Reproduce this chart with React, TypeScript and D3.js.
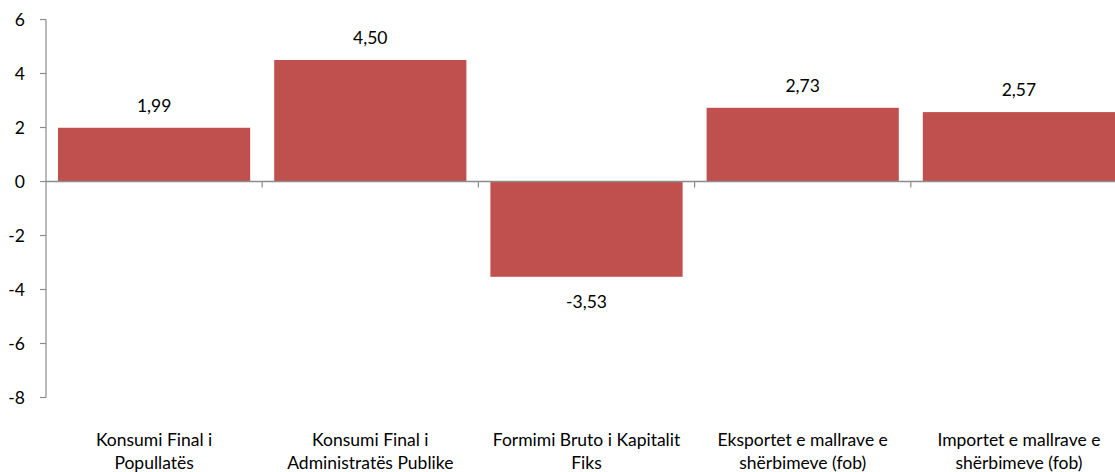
import React from "react";
import * as d3 from "d3";

const categories: string[][] = [
  ["Konsumi Final i", "Popullatës"],
  ["Konsumi Final i", "Administratës Publike"],
  ["Formimi Bruto i Kapitalit", "Fiks"],
  ["Eksportet e mallrave e", "shërbimeve (fob)"],
  ["Importet e mallrave e", "shërbimeve (fob)"],
];
const values: number[] = [1.99, 4.5, -3.53, 2.73, 2.57];
const yTicks: number[] = [6, 4, 2, 0, -2, -4, -6, -8];

const W = 1115;
const H = 472;
const FONT = "Lato, 'Open Sans', sans-serif";
const FS = 17.5;

export default function App() {
  const x = d3
    .scaleBand<number>()
    .domain(values.map((_, i) => i))
    .range([46, 1127])
    .paddingInner(0.111)
    .paddingOuter(0.0555);
  const y = d3.scaleLinear().domain([-8, 6]).range([397.5, 19.5]);
  const step = x.step();
  const x0 = 46;
  const fmt = (v: number) => v.toFixed(2).replace(".", ",");
  const axisColor = "#8c8c8c";

  return (
    <svg
      width={W}
      height={H}
      style={{ position: "absolute", left: 0, top: 0, background: "#fff" }}
    >
      {values.map((v, i) => (
        <rect
          key={i}
          x={x(i)}
          width={x.bandwidth()}
          y={y(Math.max(0, v))}
          height={Math.abs(y(v) - y(0))}
          fill="#C0504D"
        />
      ))}
      {/* y axis */}
      <line x1={x0} x2={x0} y1={y(6)} y2={y(-8)} stroke={axisColor} strokeWidth={1.2} />
      {yTicks.map((t) => (
        <g key={t}>
          <line x1={x0 - 6} x2={x0} y1={y(t)} y2={y(t)} stroke={axisColor} strokeWidth={1.2} />
          <text
            x={25}
            y={y(t)}
            dy="0.35em"
            textAnchor="end"
            fontFamily={FONT}
            fontSize={FS}
            fill="#000"
          >
            {t}
          </text>
        </g>
      ))}
      {/* zero line */}
      <line x1={x0} x2={W + 20} y1={y(0)} y2={y(0)} stroke={axisColor} strokeWidth={1.5} />
      {values.map((_, i) =>
        i === 0 ? null : (
          <line
            key={i}
            x1={x0 + step * i}
            x2={x0 + step * i}
            y1={y(0)}
            y2={y(0) + 6}
            stroke={axisColor}
            strokeWidth={1.2}
          />
        )
      )}
      {/* value labels */}
      {values.map((v, i) => (
        <text
          key={i}
          x={(x(i) as number) + x.bandwidth() / 2}
          y={v >= 0 ? y(v) - 22 : y(v) + 25}
          dy="0.35em"
          textAnchor="middle"
          fontFamily={FONT}
          fontSize={FS}
          fill="#000"
        >
          {fmt(v)}
        </text>
      ))}
      {/* category labels */}
      {categories.map((lines, i) => (
        <text
          key={i}
          x={(x(i) as number) + x.bandwidth() / 2}
          textAnchor="middle"
          fontFamily={FONT}
          fontSize={FS}
          fill="#000"
        >
          {lines.map((l, j) => (
            <tspan key={j} x={(x(i) as number) + x.bandwidth() / 2} y={440 + j * 23} dy="0.35em">
              {l}
            </tspan>
          ))}
        </text>
      ))}
    </svg>
  );
}
